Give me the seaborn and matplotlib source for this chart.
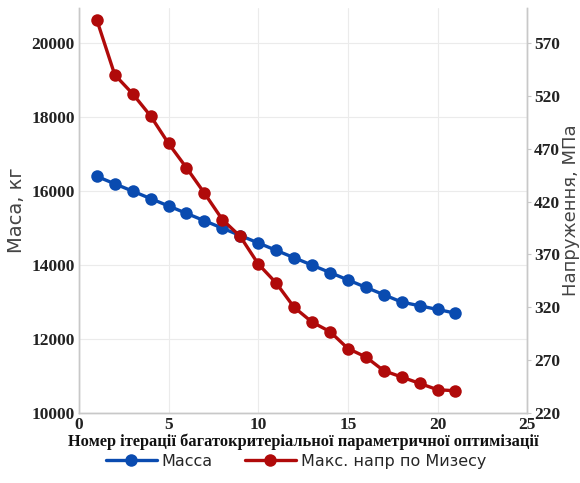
import matplotlib
matplotlib.use("Agg")
import matplotlib.pyplot as plt
import seaborn as sns
import pandas as pd
from matplotlib.lines import Line2D

sns.set_theme(style="white")
plt.rcParams['font.family'] = ['DejaVu Sans']

iterations = list(range(1, 22))
mass = [16400, 16200, 16000, 15800, 15600, 15400, 15200, 15000, 14800, 14600,
        14400, 14200, 14000, 13800, 13600, 13400, 13200, 13000, 12900, 12800, 12700]
stress = [592, 540, 522, 501, 475, 452, 428, 403, 387, 361,
          343, 320, 306, 297, 281, 273, 260, 254, 248, 242, 241]
x_ticks = [0, 5, 10, 15, 20, 25]
left_ticks = [10000, 12000, 14000, 16000, 18000, 20000]
right_ticks = [220, 270, 320, 370, 420, 470, 520, 570]

mass_label = "Масса"
stress_label = "Макс. напр по Мизесу"
xlabel = "Номер ітерації багатокритеріальної параметричної оптимізації"
ylabel_left = "Маса, кг"
ylabel_right = "Напруження, МПа"

df = pd.DataFrame({"it": iterations, "mass": mass, "stress": stress})

blue = "#0a4bb0"
red = "#b00a0a"

fig = plt.figure(figsize=(5.8, 4.83), dpi=100)
ax = fig.add_axes([0.136, 0.145, 0.773, 0.838])
ax2 = ax.twinx()

sns.lineplot(data=df, x="it", y="mass", ax=ax, color=blue, lw=2.4,
             marker="o", markersize=9, markeredgewidth=0)
sns.lineplot(data=df, x="it", y="stress", ax=ax2, color=red, lw=2.4,
             marker="o", markersize=9, markeredgewidth=0)

ax.set_xlim(0, 25)
ax.set_ylim(10000, 20950)
ax2.set_ylim(220, 603)
ax.set_xticks(x_ticks)
ax.set_yticks(left_ticks)
ax2.set_yticks(right_ticks)

tickfont = dict(family="Liberation Serif", weight="bold", size=12.5)
ax.set_xticklabels([str(t) for t in x_ticks], **tickfont, color="#222222")
ax.set_yticklabels([str(t) for t in left_ticks], **tickfont, color="#222222")
ax2.set_yticklabels([str(t) for t in right_ticks], **tickfont, color="#222222")

ax.grid(True, color="#ebebeb", lw=0.8)
ax2.grid(False)
ax.set_axisbelow(True)

for a in (ax, ax2):
    a.spines["top"].set_visible(False)
    for s in ("left", "right", "bottom"):
        a.spines[s].set_color("#c8c8c8")
        a.spines[s].set_linewidth(1.0)

ax.tick_params(axis="both", length=0, pad=3)
ax2.tick_params(axis="y", length=3, width=0.8, color="#c8c8c8", pad=2)

ax.set_xlabel(xlabel, family="Liberation Serif", weight="bold", size=11.8, color="#111111", labelpad=0)
ax.set_ylabel(ylabel_left, size=14, color="#444444", labelpad=4)
ax2.set_ylabel(ylabel_right, size=13, color="#444444", labelpad=1)

handles = [Line2D([0], [0], color=blue, lw=2.4, marker="o", markersize=9, markeredgewidth=0),
           Line2D([0], [0], color=red, lw=2.4, marker="o", markersize=9, markeredgewidth=0)]
fig.legend(handles, [mass_label, stress_label], loc="lower center", ncol=2,
           bbox_to_anchor=(0.51, 0.0), frameon=False, fontsize=11.5,
           handlelength=3.2, columnspacing=2.0, handletextpad=0.3)
ax.get_legend() and ax.get_legend().remove()
ax2.get_legend() and ax2.get_legend().remove()

fig.savefig("out.png", dpi=100)
